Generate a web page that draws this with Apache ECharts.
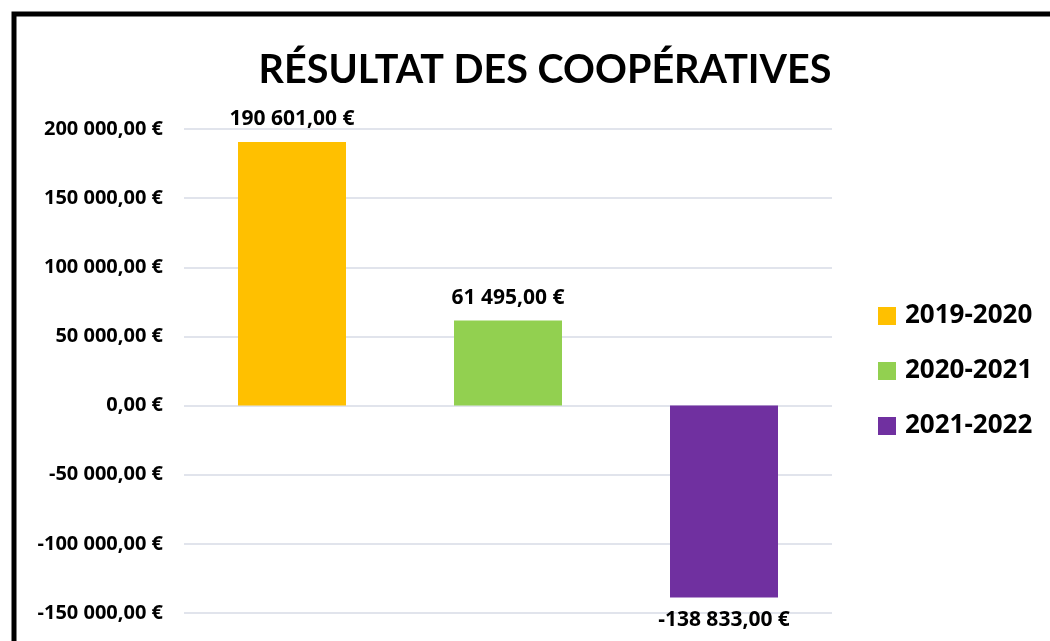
<!DOCTYPE html>
<html>
<head>
<meta charset="utf-8">
<script src="https://cdn.jsdelivr.net/npm/echarts@6/dist/echarts.min.js"></script>
<style>
    html, body { margin: 0; padding: 0; background: #fff; overflow: hidden; }
    #main { width: 1050px; height: 641px; }
</style>
</head>
<body>
<div id="main"></div>
<script>
    var years = ['2019-2020', '2020-2021', '2021-2022'];
    var results = [190601, 61495, -138833];
    var colors = ['#FFC000', '#92D050', '#7030A0'];
    var yTicks = [-150000, -100000, -50000, 0, 50000, 100000, 150000, 200000];

    // format français : 190 601,00 €
    function euro(v) {
        var neg = v < 0;
        var s = Math.abs(Math.round(v)).toString().replace(/\B(?=(\d{3})+(?!\d))/g, ' ');
        return (neg ? '-' : '') + s + ',00 €';
    }

    var series = years.map(function (y, i) {
        var data = years.map(function (c, j) { return j === i ? results[i] : null; });
        return {
            name: y,
            type: 'bar',
            stack: 'all',
            barWidth: '50%',
            data: data,
            itemStyle: { color: colors[i] },
            label: {
                show: true,
                position: results[i] < 0 ? 'bottom' : 'top',
                distance: 12,
                formatter: function (p) { return euro(p.value); },
                color: '#000',
                fontSize: 21,
                fontWeight: 'bold',
                fontFamily: 'Open Sans'
            }
        };
    });

    var chart = echarts.init(document.getElementById('main'));
    chart.setOption({
        animation: false,
        backgroundColor: '#fff',
        title: {
            text: 'RÉSULTAT DES COOPÉRATIVES',
            left: 540,
            top: 45,
            textAlign: 'center',
            textStyle: { fontFamily: 'Lato', fontWeight: 'bold', fontSize: 39.5, color: '#000' }
        },
        legend: {
            orient: 'vertical',
            left: 878,
            top: 303,
            padding: 0,
            icon: 'rect',
            itemWidth: 18,
            itemHeight: 18,
            itemGap: 29,
            data: years,
            textStyle: {
                fontFamily: 'Open Sans', fontWeight: 'bold', fontSize: 26, color: '#000',
                lineHeight: 26, padding: [0, 0, 0, 4]
            }
        },
        grid: { left: 184, right: 218, top: 129, bottom: 28 },
        xAxis: {
            type: 'category',
            data: years,
            axisLine: { show: false },
            axisTick: { show: false },
            axisLabel: { show: false }
        },
        yAxis: {
            type: 'value',
            min: yTicks[0],
            max: yTicks[yTicks.length - 1],
            interval: 50000,
            axisLabel: {
                formatter: euro,
                margin: 21,
                color: '#000',
                fontSize: 20,
                fontWeight: 'bold',
                fontFamily: 'Open Sans'
            },
            splitLine: { lineStyle: { color: '#E1E4EC', width: 2 } }
        },
        graphic: [{
            type: 'rect',
            shape: { x: 14, y: 14, width: 1200, height: 800 },
            style: { fill: null, stroke: '#000', lineWidth: 5 },
            silent: true
        }],
        series: series
    });
</script>
</body>
</html>
